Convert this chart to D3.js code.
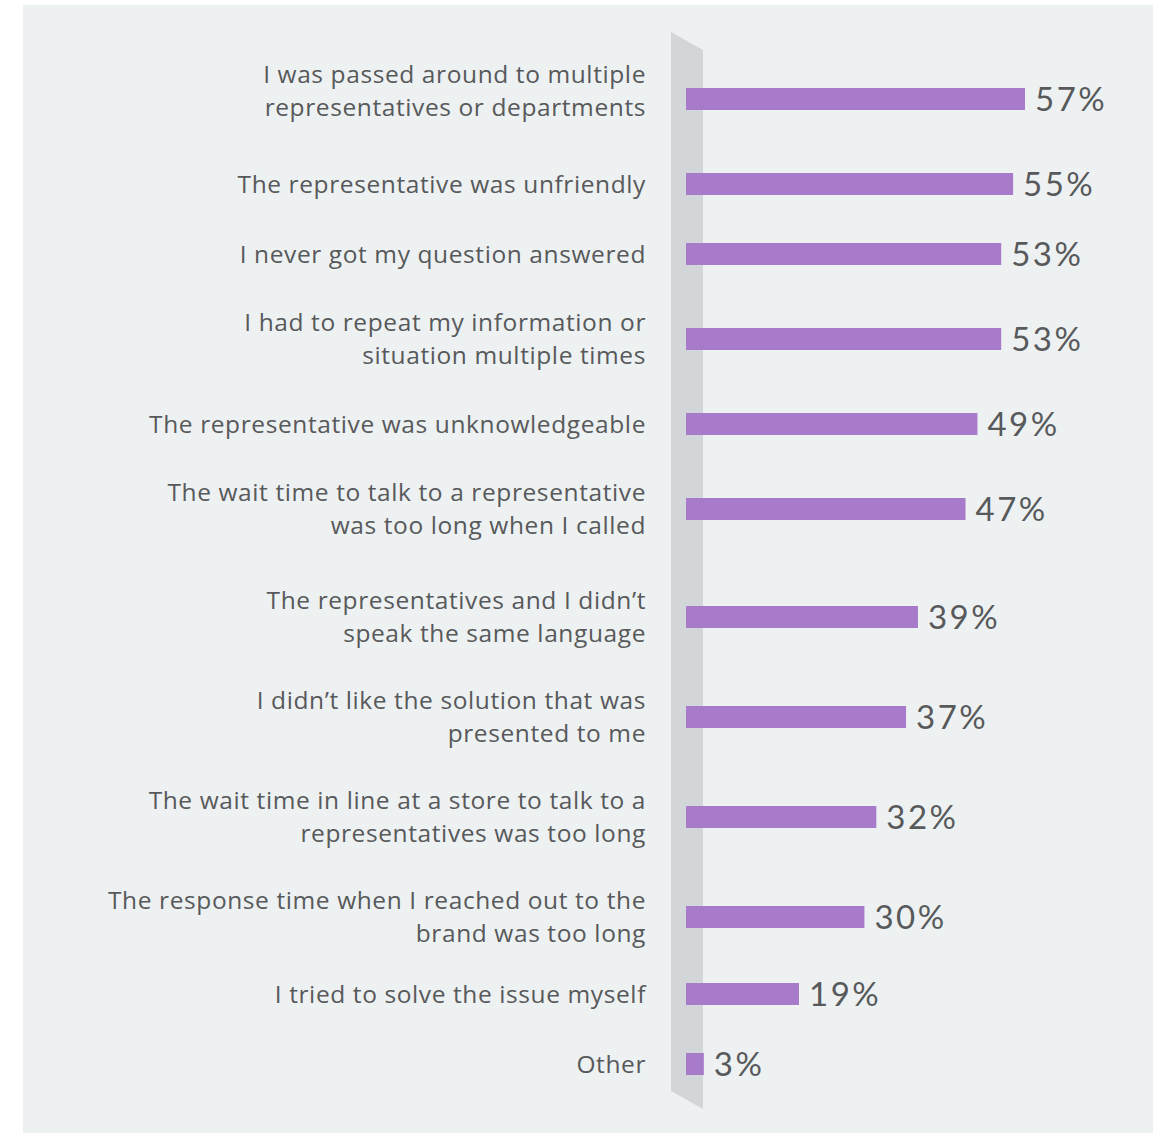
<!DOCTYPE html>
<html>
<head>
<meta charset="utf-8">
<script src="https://cdn.jsdelivr.net/npm/d3@7"></script>
<style>
  body { margin: 0; background: #ffffff; }
  svg { display: block; }
  .label { font-family: "Open Sans", sans-serif; font-size: 24.5px; fill: #58595b; letter-spacing: 0.6px; }
  .value { font-family: "Lato", sans-serif; font-size: 33px; fill: #58595b; letter-spacing: 2.5px; }
</style>
</head>
<body>
<svg id="chart" width="1153" height="1133"></svg>
<script>
// reasons, each split into the lines shown in the chart
const labels = [
    ["I was passed around to multiple", "representatives or departments"],
    ["The representative was unfriendly"],
    ["I never got my question answered"],
    ["I had to repeat my information or", "situation multiple times"],
    ["The representative was unknowledgeable"],
    ["The wait time to talk to a representative", "was too long when I called"],
    ["The representatives and I didn\u2019t", "speak the same language"],
    ["I didn\u2019t like the solution that was", "presented to me"],
    ["The wait time in line at a store to talk to a", "representatives was too long"],
    ["The response time when I reached out to the", "brand was too long"],
    ["I tried to solve the issue myself"],
    ["Other"]
];
const values = [57, 55, 53, 53, 49, 47, 39, 37, 32, 30, 19, 3];

const width = 1153;
const height = 1133;
const bar_x = 686;    // left edge of bars
const bar_h = 22;
const first_row = 99;
const line_h = 33;

const svg = d3.select("#chart");

// panel background
svg.append("rect")
    .attr("x", 23).attr("y", 5)
    .attr("width", width - 23).attr("height", height - 5)
    .attr("fill", "#edf1f2");

// row centres: two-line labels take more room than one-line ones
// (the original has a bit of extra air around rows 6-9)
var rows = [first_row];
for (var i = 1; i < labels.length; i++) {
    var gap = 40 + 15 * (labels[i - 1].length + labels[i].length);
    if (i == 6) gap += 8;
    if (i == 10) gap -= 8;
    rows.push(rows[i - 1] + gap);
}

const y = d3.scaleOrdinal()
    .domain(d3.range(labels.length))
    .range(rows);

const x = d3.scaleLinear()
    .domain([0, 57])
    .range([0, 339]);

// grey slanted band behind the bar baseline
const band_top = rows[0] - 67;
const band_bottom = rows[rows.length - 1] + 27;
svg.append("polygon")
    .attr("points", [
        [671, band_top], [703, band_top + 18],
        [703, band_bottom + 18], [671, band_bottom]
    ].map(p => p.join(",")).join(" "))
    .attr("fill", "#d2d6d9");

svg.selectAll(".bar")
    .data(values)
    .join("rect")
    .classed("bar", true)
    .attr("x", bar_x)
    .attr("y", (d, i) => y(i) - bar_h / 2)
    .attr("width", d => x(d))
    .attr("height", bar_h)
    .attr("fill", "#a77bc9");

svg.selectAll(".value")
    .data(values)
    .join("text")
    .classed("value", true)
    .attr("x", d => bar_x + x(d) + 10)
    .attr("y", (d, i) => y(i))
    .attr("dy", "0.36em")
    .text(d => d + "%");

// one text element per label line
const lines = labels.flatMap((d, i) =>
    d.map((line, j) => ({line: line, j: j, n: d.length, i: i})));

svg.selectAll(".label")
    .data(lines)
    .join("text")
    .classed("label", true)
    .attr("text-anchor", "end")
    .attr("x", 646)
    .attr("y", d => y(d.i) + (d.j - (d.n - 1) / 2) * line_h - (d.i == 0 ? 8 : 0))
    .attr("dy", "0.35em")
    .text(d => d.line);
</script>
</body>
</html>
